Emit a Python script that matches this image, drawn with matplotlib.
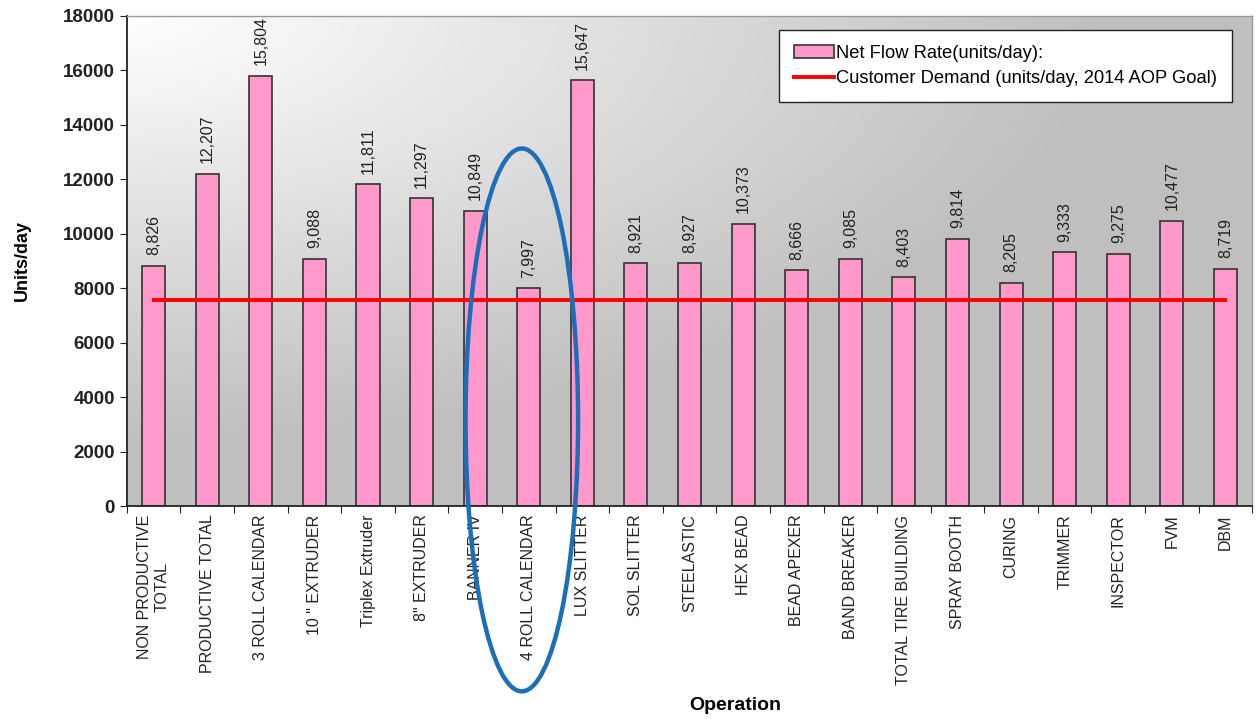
import numpy as np
import matplotlib
matplotlib.use("Agg")
import matplotlib.pyplot as plt
from matplotlib.patches import Ellipse
from matplotlib.transforms import blended_transform_factory

plt.rcParams['font.family'] = ['Liberation Sans', 'DejaVu Sans']

# data
operations = ["NON PRODUCTIVE\nTOTAL", "PRODUCTIVE TOTAL", "3 ROLL CALENDAR", '10 " EXTRUDER',
              "Triplex Extruder", '8" EXTRUDER', "BANNER IV", "4 ROLL CALENDAR", "LUX SLITTER",
              "SOL SLITTER", "STEELASTIC", "HEX BEAD", "BEAD APEXER", "BAND BREAKER",
              "TOTAL TIRE BUILDING", "SPRAY BOOTH", "CURING", "TRIMMER", "INSPECTOR", "FVM", "DBM"]
net_flow = [8826, 12207, 15804, 9088, 11811, 11297, 10849, 7997, 15647,
            8921, 8927, 10373, 8666, 9085, 8403, 9814, 8205, 9333, 9275, 10477, 8719]
customer_demand = 7550
highlight = "4 ROLL CALENDAR"

x = np.arange(len(operations))

fig = plt.figure(figsize=(12.56, 7.19), dpi=100)
ax = fig.add_axes([0.101, 0.296, 0.896, 0.682])

# gradient background (white top-left -> grey)
u = np.linspace(0, 1, 300)
v = np.linspace(0, 1, 200)
U, V = np.meshgrid(u, v)
r = np.clip(np.sqrt(U**2 + V**2) * 1.15, 0, 1)
g = 1 - 0.25 * r
ax.imshow(np.dstack([g, g, g]), extent=[0, 1, 0, 1], transform=ax.transAxes,
          aspect='auto', origin='upper', zorder=0)

bars = ax.bar(x, net_flow, width=0.43, color='#ff99cc', edgecolor='#333333',
              linewidth=1.2, zorder=2, label='Net Flow Rate(units/day):')
line, = ax.plot(x, [customer_demand] * len(x), color='#ff0000', linewidth=2.8, zorder=3,
                label='Customer Demand (units/day, 2014 AOP Goal)')

for xi, val in zip(x, net_flow):
    ax.text(xi, val + 380, f"{val:,}", rotation=90, ha='center', va='bottom',
            fontsize=11.5, color='#222222', zorder=4)

ax.set_xlim(-0.5, len(x) - 0.5)
ax.set_ylim(0, 18000)
ax.set_yticks(np.arange(0, 18001, 2000))
ax.tick_params(axis='y', labelsize=13.5, length=5, direction='out', colors='#222222')
for lab in ax.get_yticklabels():
    lab.set_fontweight('bold')

ax.set_xticks(np.arange(-0.5, len(x), 1))
ax.set_xticklabels([])
ax.tick_params(axis='x', which='major', length=5, direction='out', color='#222222')
ax.set_xticks(x, minor=True)
ax.set_xticklabels(operations, minor=True, rotation=90, fontsize=11.5, va='top',
                   ha='center', multialignment='center', color='#222222')
ax.tick_params(axis='x', which='minor', length=0, pad=6)

for s in ['left', 'bottom']:
    ax.spines[s].set_color('#222222')
    ax.spines[s].set_linewidth(1.3)
for s in ['top', 'right']:
    ax.spines[s].set_color('#999999')
    ax.spines[s].set_linewidth(1.0)

ax.set_ylabel('Units/day', fontsize=13, fontweight='bold')
ax.yaxis.set_label_coords(-0.085, 0.5)
ax.set_xlabel('Operation', fontsize=14, fontweight='bold')
ax.xaxis.set_label_coords(0.541, -0.39)

leg = ax.legend(handles=[bars, line], loc='upper right', bbox_to_anchor=(0.982, 0.971),
                borderaxespad=0, fontsize=13.2, frameon=True, fancybox=False,
                edgecolor='#222222', framealpha=1, handlelength=2.2, handletextpad=0.1,
                borderpad=0.8, labelspacing=0.45)
leg.get_frame().set_linewidth(1.0)

# highlight ellipse
hi = operations.index(highlight)
trans = blended_transform_factory(ax.transData, fig.transFigure)
ell = Ellipse((hi - 0.13, 0.416), width=2.1, height=0.755, transform=trans,
              fill=False, edgecolor='#1a6fb8', linewidth=3.2, zorder=10, clip_on=False)
fig.add_artist(ell)

fig.savefig('out.png', dpi=100)
